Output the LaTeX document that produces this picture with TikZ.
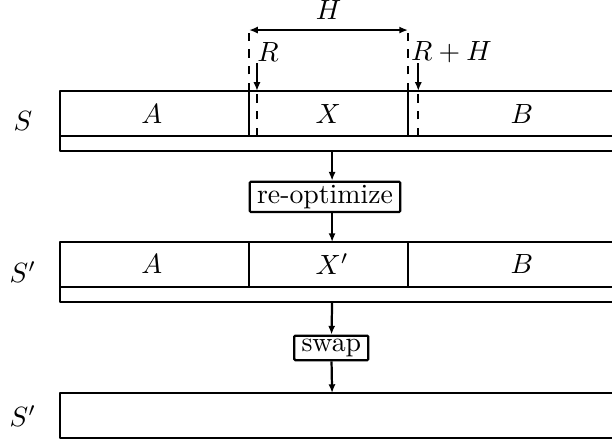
\documentclass[tikz,border=0pt]{standalone}
\usepackage{amsmath}
\usetikzlibrary{arrows.meta}

\begin{document}
\begin{tikzpicture}[>={Latex[length=1.1mm,width=0.9mm]}, x=1mm, y=1mm,
  bar/.style={thick, line join=round},
  cut/.style={thick, dashed},
  opbox/.style={draw, thick, rounded corners=0.4pt, inner xsep=2.6pt, inner ysep=1.2pt}]
\useasboundingbox (0,0) rectangle (77.4,56.2);
% first solution S with the window X
\draw[bar] (7.6,39.0) rectangle (80.5,44.7);
\draw[bar] (7.6,37.1) rectangle (80.5,39.0);
\draw[bar] (31.5,39.0) -- (31.5,44.7);
\draw[bar] (51.6,39.0) -- (51.6,44.7);
\draw[cut] (32.5,39.0) -- (32.5,44.7);
\draw[cut] (52.9,39.0) -- (52.9,44.7);
\node (sname) at (2.9,40.9) {$S$};
\node (sa) at (19.2,41.8) {$A$};
\node (sx) at (41.5,41.8) {$X$};
\node (sb) at (66.0,41.8) {$B$};
% window width H
\coordinate (hl) at (31.5,52.4);
\coordinate (hr) at (51.6,52.4);
\draw[cut] (31.5,44.7) -- (hl);
\draw[cut] (51.6,44.7) -- (hr);
\draw[<->, thick] (hl) -- (hr) node[midway, above] (hname) {$H$};
% window ends R and R+H
\coordinate (rtop) at (32.5,48.2);
\coordinate (rbot) at (32.5,44.7);
\coordinate (rhtop) at (52.9,48.2);
\coordinate (rhbot) at (52.9,44.7);
\draw[->, thick] (rtop) -- (rbot);
\draw[->, thick] (rhtop) -- (rhbot);
\node (rname) at (33.9,49.6) {$R$};
\node (rhname) at (57.1,49.6) {$R+H$};
% re-optimize step
\node[opbox] (reopt) at (41.1,31.3) {re-optimize};
\coordinate (s1) at (42.0,37.1);
\coordinate (s2top) at (42.0,25.6);
\draw[->, thick] (s1) -- (s1 |- reopt.north);
\draw[->, thick] (s2top |- reopt.south) -- (s2top);
% second solution S'
\draw[bar] (7.6,19.9) rectangle (80.5,25.6);
\draw[bar] (7.6,18.0) rectangle (80.5,19.9);
\draw[bar] (31.5,19.9) -- (31.5,25.6);
\draw[bar] (51.6,19.9) -- (51.6,25.6);
\node (tname) at (2.9,21.8) {$S'$};
\node (ta) at (19.2,22.8) {$A$};
\node (tx) at (42.0,22.8) {$X'$};
\node (tb) at (66.0,22.8) {$B$};
% swap step
\node[opbox] (swap) at (41.9,12.2) {swap};
\coordinate (s2) at (42.0,18.0);
\coordinate (s3top) at (42.0,6.5);
\draw[->, thick] (s2) -- (swap);
\draw[->, thick] (swap) -- (s3top);
% final solution
\draw[bar] (7.6,0.8) rectangle (80.5,6.5);
\node (uname) at (2.9,3.6) {$S'$};
\end{tikzpicture}
\end{document}
